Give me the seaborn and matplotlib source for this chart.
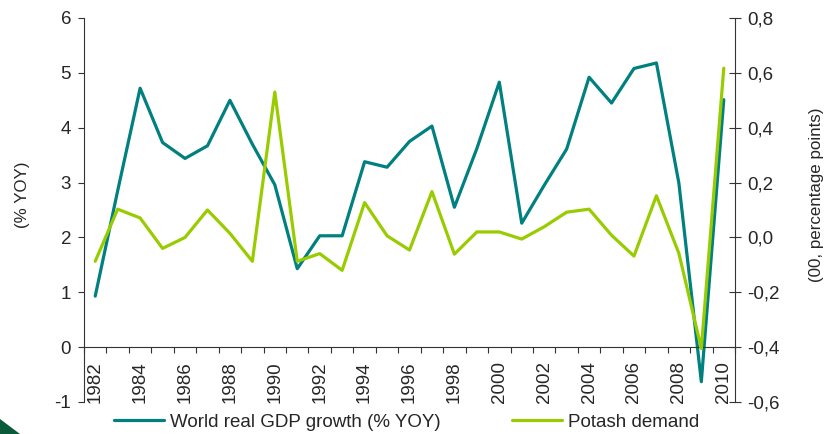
import numpy as np
import pandas as pd
import matplotlib
matplotlib.use("Agg")
import matplotlib.pyplot as plt
import seaborn as sns
from matplotlib.patches import Polygon

# Data
years = list(range(1982, 2011))
gdp_growth = [0.93, 2.85, 4.72, 3.73, 3.44, 3.67, 4.50, 3.70, 2.96, 1.43,
              2.03, 2.03, 3.38, 3.28, 3.75, 4.03, 2.55, 3.62, 4.83, 2.26,
              2.95, 3.61, 4.92, 4.45, 5.08, 5.18, 2.99, -0.63, 4.51]
potash_demand = [-0.087, 0.103, 0.071, -0.040, 0.000, 0.100, 0.015, -0.087, 0.530, -0.087,
                 -0.059, -0.120, 0.127, 0.006, -0.046, 0.167, -0.061, 0.020, 0.020, -0.006,
                 0.039, 0.092, 0.103, 0.008, -0.068, 0.152, -0.058, -0.405, 0.617]
left_ticks = [-1, 0, 1, 2, 3, 4, 5, 6]
right_ticks = [-0.6, -0.4, -0.2, 0.0, 0.2, 0.4, 0.6, 0.8]
right_labels = ["-0,6", "-0,4", "-0,2", "0,0", "0,2", "0,4", "0,6", "0,8"]

df = pd.DataFrame({"year": years, "gdp": gdp_growth, "potash": potash_demand})

sns.set_style("white")
plt.rcParams["font.family"] = ["Liberation Sans", "DejaVu Sans"]

teal = "#00807F"
lime = "#99CC00"
fs = 13.5      # ticks and legend
fs_lab = 12.2  # axis titles

fig = plt.figure(figsize=(8.27, 4.34), dpi=100)
ax = fig.add_axes([84 / 827, 1 - 402 / 434, 651 / 827, 384 / 434])
ax2 = ax.twinx()

sns.lineplot(data=df, x="year", y="gdp", ax=ax, color=teal, linewidth=2.3,
             label="World real GDP growth (% YOY)", legend=False)
sns.lineplot(data=df, x="year", y="potash", ax=ax2, color=lime, linewidth=2.3,
             label="Potash demand", legend=False)

# left axis
ax.set_ylim(-1, 6)
ax.set_xlim(years[0] - 0.5, years[-1] + 0.5)
ax.set_yticks(left_ticks)
ax.set_yticklabels([str(t) for t in left_ticks], fontsize=fs)
ax.tick_params(axis="y", direction="out", length=4.3, width=0.8, pad=5, color="#333333",
               left=True)
ax.set_ylabel("(% YOY)", fontsize=fs_lab)
ax.yaxis.set_label_coords(-0.083, 0.54)

# x axis sits at zero
ax.spines["bottom"].set_position(("data", 0))
for s in ["top", "right"]:
    ax.spines[s].set_visible(False)
for s in ["left", "bottom"]:
    ax.spines[s].set_color("#333333")
    ax.spines[s].set_linewidth(0.8)
ax.set_xticks(np.arange(years[0] - 0.5, years[-1] + 1, 1.0))
ax.set_xticklabels([])
ax.tick_params(axis="x", which="major", direction="out", length=4, width=0.8,
               color="#333333", bottom=True)
ax.set_xticks(years[::2], minor=True)
ax.set_xticklabels([str(y) for y in years[::2]], minor=True, rotation=90, fontsize=fs)
ax.tick_params(axis="x", which="minor", length=0, pad=10)
ax.set_xlabel("")

# right axis
ax2.set_ylim(-0.6, 0.8)
ax2.set_yticks(right_ticks)
ax2.set_yticklabels(right_labels, fontsize=fs)
ax2.tick_params(axis="y", direction="inout", length=8, width=0.8, pad=5, color="#333333",
                right=True)
ax2.set_ylabel("(00, percentage points)", fontsize=fs_lab)
ax2.yaxis.set_label_coords(1.113, 0.54)
for s in ["top", "left", "bottom"]:
    ax2.spines[s].set_visible(False)
ax2.spines["right"].set_color("#333333")
ax2.spines["right"].set_linewidth(0.8)

# legend below
h1, l1 = ax.get_legend_handles_labels()
h2, l2 = ax2.get_legend_handles_labels()
fig.legend(h1 + h2, l1 + l2, loc="center", bbox_to_anchor=(0.4915, 0.027), ncol=2,
           frameon=False, fontsize=fs, handlelength=2.7, handletextpad=0.3,
           columnspacing=3.8)

# small decorative corner triangle
fig.patches.append(Polygon([[0, 0], [0, 15 / 434], [20 / 827, 0]], closed=True,
                           transform=fig.transFigure, facecolor="#0B5A3A",
                           edgecolor="none"))

fig.savefig("out.png", dpi=100)
